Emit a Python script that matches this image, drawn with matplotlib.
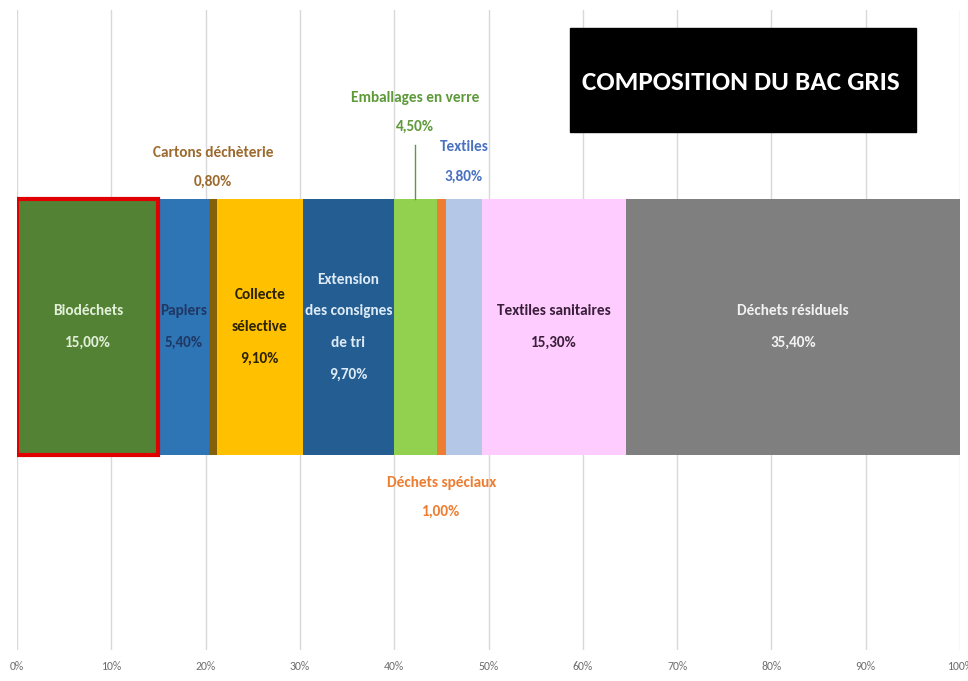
import matplotlib
matplotlib.use("Agg")
import matplotlib.pyplot as plt
from matplotlib.patches import Rectangle
from matplotlib.ticker import FuncFormatter
import numpy as np

plt.rcParams['font.family'] = ['Carlito', 'DejaVu Sans']

# Données (part de chaque flux dans le bac gris, en %)
categories = ["Biodéchets", "Papiers", "Cartons déchèterie", "Collecte\nsélective",
              "Extension\ndes consignes\nde tri", "Emballages en verre",
              "Déchets spéciaux", "Textiles", "Textiles sanitaires", "Déchets résiduels"]
valeurs = [15.0, 5.4, 0.8, 9.1, 9.7, 4.5, 1.0, 3.8, 15.3, 35.4]
couleurs = ["#548235", "#2E75B6", "#846008", "#FFC000", "#245D91",
            "#92D050", "#ED7D31", "#B4C7E7", "#FFCCFF", "#7F7F7F"]
couleurs_txt = ["#E2F0D9", "#1F3864", "#9C6A2E", "#2B2200", "#DDEBF7",
                "#5E9A3A", "#ED7D31", "#4A72C0", "#3A1F3A", "#F2F2F2"]
titre = "COMPOSITION DU BAC GRIS"

def pct(v):
    return ("%.2f%%" % v).replace(".", ",")

fig = plt.figure(figsize=(9.68, 6.81), dpi=100)
ax = fig.add_axes([0.0176, 0.0455, 0.9741, 0.9395])

gauche = np.concatenate([[0], np.cumsum(valeurs)[:-1]])
milieu = gauche + np.array(valeurs) / 2
yb = 0.005
hb = 0.40
for i, (v, g) in enumerate(zip(valeurs, gauche)):
    ax.barh(yb, v, left=g, height=hb, color=couleurs[i], zorder=3)

# bordure rouge autour des biodéchets
ax.barh(yb, valeurs[0], left=0, height=hb, facecolor="none",
        edgecolor="#E00000", linewidth=3, zorder=4)

# étiquettes dans les barres
fs = 11
interne = [0, 1, 3, 4, 8, 9]
for i in interne:
    ax.text(milieu[i], yb, categories[i] + "\n" + pct(valeurs[i]), ha="center", va="center",
            color=couleurs_txt[i], fontsize=fs, fontweight="bold",
            linespacing=2.6, zorder=5)

# étiquettes extérieures
def ext(i, y):
    ax.text(milieu[i], y, categories[i] + "\n" + pct(valeurs[i]), ha="center", va="center",
            color=couleurs_txt[i], fontsize=fs, fontweight="bold",
            linespacing=2.35, zorder=5)

ext(2, 0.255)
ext(5, 0.340)
ext(7, 0.263)
ext(6, -0.262)
ax.plot([milieu[5], milieu[5]], [yb + hb / 2, 0.289], color="#5E9A3A", lw=1, zorder=5)

ax.set_xlim(0, 100)
ax.set_ylim(-0.5, 0.5)
ax.set_xticks(np.arange(0, 101, 10))
ax.xaxis.set_major_formatter(FuncFormatter(lambda x, p: "%d%%" % x))
ax.set_yticks([])
ax.grid(axis="x", color="#D9D9D9", lw=1, zorder=0)
ax.tick_params(axis="x", length=0, labelsize=8.5, labelcolor="#6E6E6E", pad=8)
for s in ax.spines.values():
    s.set_visible(False)

# cadre du titre
fig.patches.append(Rectangle((570 / 968, 1 - 132 / 681), 346 / 968, 104 / 681,
                             transform=fig.transFigure, color="black", zorder=10))
fig.text(741 / 968, 1 - 82 / 681, titre, ha="center", va="center", color="white",
         fontsize=19.5, fontweight="bold", zorder=11)

fig.savefig("out.png", dpi=100)
